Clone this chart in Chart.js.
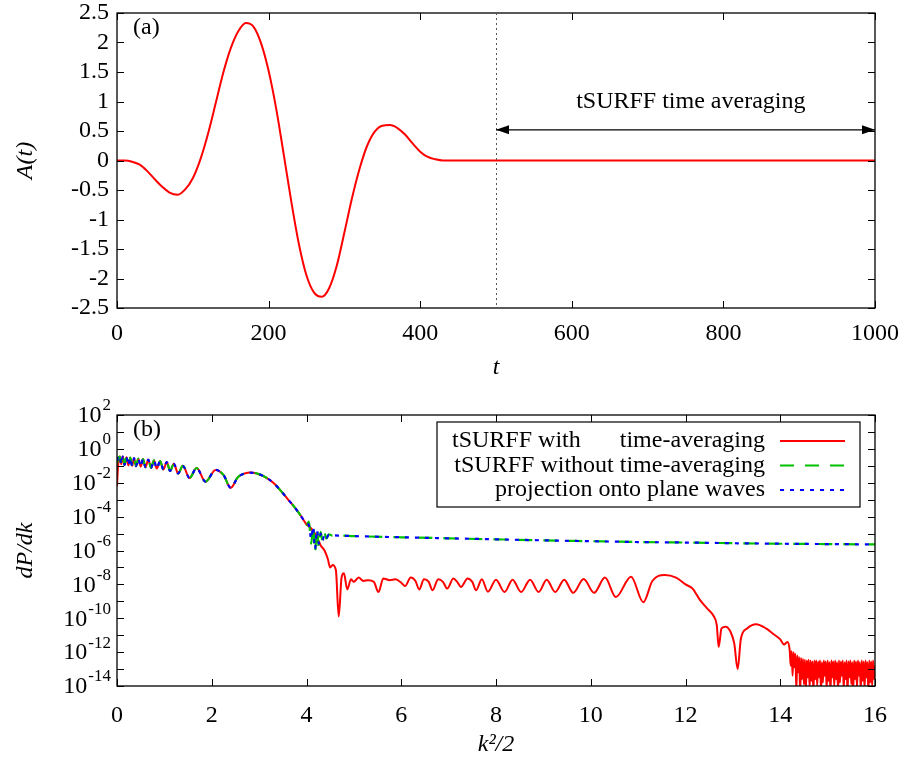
<!DOCTYPE html>
<html lang="en">
<head>
<meta charset="UTF-8" />
<title>A(t) and dP/dk</title>
<script src="https://cdn.jsdelivr.net/npm/chart.js@4.4.0/dist/chart.umd.min.js"></script>
<style>
    body { margin: 0; background: #fff; }
    canvas { position: absolute; left: 0; display: block; }
    #pulse { top: 0; }
    #spectrum { top: 390px; }
</style>
</head>
<body>
<canvas id="pulse" width="906" height="390"></canvas>
<canvas id="spectrum" width="906" height="374"></canvas>
<script>
// ---- panel (a): vector potential A(t)
const tVals = [0, 10, 20, 30, 40, 50, 60, 70, 80, 90, 100, 110, 120, 130, 140, 150, 160, 170, 180, 190,
    200, 210, 220, 230, 240, 250, 260, 270, 280, 290, 300, 310, 320, 330, 340, 350, 360, 370, 380, 390,
    400, 410, 420, 430, 440, 500, 600, 700, 800, 900, 1000];
const aVals = [0, 0, -0.02, -0.07, -0.18, -0.32, -0.45, -0.55, -0.58, -0.49, -0.30, 0.02, 0.45, 0.96, 1.48, 1.90, 2.19, 2.33, 2.27, 1.99,
    1.52, 0.88, 0.10, -0.70, -1.42, -1.95, -2.24, -2.31, -2.16, -1.78, -1.22, -0.64, -0.14, 0.25, 0.49, 0.59, 0.60, 0.55, 0.44, 0.29,
    0.15, 0.06, 0.02, 0, 0, 0, 0, 0, 0, 0, 0];
const aTicksX = [0, 200, 400, 600, 800, 1000];
const avgStart = 500, avgEnd = 1000;   // tSURFF time averaging window

// ---- panel (b): spectra, stored as log10(dP/dk)
const sharedE = [0.06, 0.09, 0.12, 0.16, 0.20, 0.24, 0.28, 0.32, 0.36, 0.40, 0.45, 0.50, 0.55, 0.60, 0.66,
    0.72, 0.78, 0.84, 0.91, 0.98, 1.05, 1.12, 1.20, 1.29, 1.39, 1.53, 1.68, 1.87, 2.08, 2.25,
    2.40, 2.55, 2.65, 2.80, 2.95, 3.10, 3.30, 3.45, 3.60, 3.75, 3.88];
const sharedLogP = [-0.45, -0.9, -0.45, -0.95, -0.5, -0.98, -0.52, -1.0, -0.55, -1.02, -0.58, -1.05, -0.6, -1.08, -0.64,
    -1.12, -0.68, -1.16, -0.72, -1.22, -0.78, -1.3, -0.88, -1.45, -1.0, -1.72, -1.13, -1.94, -1.24, -1.55,
    -2.3, -1.68, -1.5, -1.40, -1.45, -1.62, -2.0, -2.45, -2.95, -3.45, -3.95];

const redHeadE = [0, 0.02, 0.04];
const redHeadLogP = [-2.2, -1.1, -0.6];
const redTailE = [4.0, 4.1, 4.2, 4.3, 4.38, 4.45, 4.5, 4.55, 4.62, 4.68, 4.74, 4.79, 4.86, 4.94, 5.0,
    5.1, 5.2, 5.3, 5.42, 5.52, 5.62, 5.75, 5.88, 6.0, 6.08, 6.2, 6.3, 6.38, 6.48, 6.58,
    6.66, 6.78, 6.88, 6.97, 7.1, 7.18, 7.26, 7.4, 7.5, 7.58, 7.7, 7.83, 8.0, 8.18, 8.35,
    8.53, 8.72, 8.9, 9.07, 9.25, 9.44, 9.63, 9.85, 10.07, 10.3, 10.53, 10.85, 11.11, 11.3, 11.56,
    11.8, 12.0, 12.15, 12.3, 12.45, 12.6, 12.66, 12.7, 12.76, 12.85, 12.95, 13.03, 13.1, 13.17, 13.3,
    13.49, 13.7, 13.84, 14.0, 14.08, 14.15];
const redTailLogP = [-4.45, -4.7, -5.1, -5.7, -6.0, -6.5, -7.0, -6.85, -7.15, -9.9, -7.6, -7.35, -8.3, -7.7, -7.85,
    -7.6, -7.8, -7.75, -7.85, -8.45, -7.65, -7.75, -7.7, -7.9, -8.1, -7.6, -7.8, -8.3, -7.7, -7.85,
    -8.35, -7.7, -7.85, -8.25, -7.65, -7.85, -8.15, -7.65, -7.85, -8.35, -7.7, -8.43, -7.72, -8.45, -7.72,
    -8.45, -7.72, -8.45, -7.72, -8.45, -7.72, -8.5, -7.68, -8.5, -7.6, -8.75, -7.55, -9.05, -7.8, -7.45,
    -7.6, -8.0, -8.25, -8.9, -9.4, -9.9, -10.4, -11.7, -10.6, -10.5, -10.8, -11.5, -13.0, -11.2, -10.6,
    -10.35, -10.6, -10.9, -11.25, -11.55, -11.4];
// numerical noise floor at high energy
const redNoiseE = [14.20, 14.22, 14.24, 14.26, 14.28, 14.30, 14.32, 14.34, 14.36, 14.38, 14.40, 14.42, 14.44, 14.46, 14.48,
    14.50, 14.52, 14.54, 14.56, 14.58, 14.60, 14.62, 14.64, 14.66, 14.68, 14.70, 14.72, 14.74, 14.76, 14.78,
    14.80, 14.82, 14.84, 14.86, 14.88, 14.90, 14.92, 14.94, 14.96, 14.98, 15.00, 15.02, 15.04, 15.06, 15.08,
    15.10, 15.12, 15.14, 15.16, 15.18, 15.20, 15.22, 15.24, 15.26, 15.28, 15.30, 15.32, 15.34, 15.36, 15.38,
    15.40, 15.42, 15.44, 15.46, 15.48, 15.50, 15.52, 15.54, 15.56, 15.58, 15.60, 15.62, 15.64, 15.66, 15.68,
    15.70, 15.72, 15.74, 15.76, 15.78, 15.80, 15.82, 15.84, 15.86, 15.88, 15.90, 15.92, 15.94, 15.96, 15.98, 16.00];
const redNoiseLogP = [-11.9, -12.8, -11.95, -13.4, -12.0, -12.9, -12.1, -14.3, -12.2, -13.2, -12.3, -14.4, -12.35, -13.6, -12.4,
    -13.9, -12.45, -14.3, -12.5, -13.5, -12.45, -14.1, -12.5, -13.7, -12.55, -14.4, -12.5, -13.6, -12.5, -14.0,
    -12.55, -13.5, -12.5, -14.3, -12.6, -13.8, -12.5, -13.4, -12.55, -14.2, -12.5, -13.7, -12.6, -14.4, -12.5,
    -13.5, -12.55, -14.0, -12.5, -13.6, -12.6, -14.3, -12.5, -13.8, -12.55, -13.4, -12.5, -14.2, -12.6, -13.6,
    -12.5, -14.4, -12.55, -13.5, -12.5, -13.9, -12.6, -14.3, -12.5, -13.6, -12.55, -14.1, -12.5, -13.4, -12.6,
    -14.3, -12.5, -13.7, -12.55, -14.2, -12.5, -13.5, -12.6, -14.4, -12.5, -13.8, -12.55, -14.0, -12.5, -13.6, -12.8];

const greenHeadE = [0, 0.03];
const greenHeadLogP = [-0.85, -0.55];
const greenTailE = [3.95, 4.0, 4.05, 4.1, 4.14, 4.18, 4.22, 4.26, 4.3, 4.34, 4.38, 4.42, 4.47, 4.55, 4.7,
    5, 6, 7, 8, 9, 10, 11, 12, 13, 14, 15, 16];
const greenTailLogP = [-4.2, -4.5, -4.3, -5.6, -4.5, -6.1, -4.7, -5.8, -4.9, -5.5, -5.0, -5.3, -5.05, -5.12, -5.12,
    -5.15, -5.22, -5.28, -5.34, -5.4, -5.45, -5.5, -5.53, -5.57, -5.6, -5.62, -5.64];

const blueHeadE = [0, 0.03];
const blueHeadLogP = [-0.7, -0.38];
const blueTailE = [3.95, 4.0, 4.05, 4.1, 4.14, 4.18, 4.22, 4.26, 4.3, 4.34, 4.38, 4.42, 4.47, 4.55, 4.7,
    5, 6, 7, 8, 9, 10, 11, 12, 13, 14, 15, 16];
const blueTailLogP = [-4.25, -4.4, -4.5, -5.3, -4.6, -5.9, -4.8, -5.6, -5.0, -5.4, -5.05, -5.25, -5.08, -5.1, -5.12,
    -5.15, -5.22, -5.28, -5.34, -5.4, -5.45, -5.5, -5.53, -5.57, -5.6, -5.62, -5.64];

const bTicksX = [0, 2, 4, 6, 8, 10, 12, 14, 16];
const bDecades = [-14, -13, -12, -11, -10, -9, -8, -7, -6, -5, -4, -3, -2, -1, 0, 1, 2];

const legendRows = ["tSURFF with time-averaging", "tSURFF without time-averaging", "projection onto plane waves"];

const serif = "Liberation Serif";
Chart.defaults.font.family = serif;
Chart.defaults.color = "#000";

function toPoints(xs, logs) {
    return xs.map((x, i) => ({ x: x, y: Math.pow(10, logs[i]) }));
}

// gnuplot style frame with inward ticks on all four sides
const frameTicks = {
    id: "frameTicks",
    afterDraw(chart) {
        const { ctx, chartArea: a, scales } = chart;
        const len = 7;
        ctx.save();
        ctx.strokeStyle = "#000";
        ctx.lineWidth = 1;
        ctx.beginPath();
        scales.x.ticks.forEach(t => {
            const px = Math.round(scales.x.getPixelForValue(t.value)) + 0.5;
            ctx.moveTo(px, a.bottom); ctx.lineTo(px, a.bottom - len);
            ctx.moveTo(px, a.top); ctx.lineTo(px, a.top + len);
        });
        scales.y.ticks.forEach(t => {
            const py = Math.round(scales.y.getPixelForValue(t.value)) + 0.5;
            ctx.moveTo(a.left, py); ctx.lineTo(a.left + len, py);
            ctx.moveTo(a.right, py); ctx.lineTo(a.right - len, py);
        });
        ctx.stroke();
        ctx.lineWidth = 1.3;
        ctx.strokeRect(a.left, a.top, a.right - a.left, a.bottom - a.top);
        ctx.font = "24px " + serif;
        ctx.fillStyle = "#000";
        ctx.textBaseline = "middle";
        ctx.fillText(chart.options.plugins.frameTicks.panel, a.left + 16, a.top + 15);
        ctx.restore();
    }
};

// 10^n labels with a raised exponent, every second decade
const powerLabels = {
    id: "powerLabels",
    afterDraw(chart) {
        const { ctx, chartArea: a, scales: { y } } = chart;
        ctx.save();
        ctx.fillStyle = "#000";
        ctx.textAlign = "right";
        ctx.textBaseline = "middle";
        bDecades.filter(e => e % 2 === 0).forEach(e => {
            const py = y.getPixelForValue(Math.pow(10, e));
            const expText = String(e);
            ctx.font = "17px " + serif;
            const w = ctx.measureText(expText).width;
            const xr = a.left - 6;
            ctx.fillText(expText, xr, py - 9);
            ctx.font = "24px " + serif;
            ctx.fillText("10", xr - w - 1, py + 1);
        });
        ctx.restore();
    }
};

const averagingNote = {
    id: "averagingNote",
    afterDraw(chart) {
        const { ctx, chartArea: a, scales: { x, y } } = chart;
        const x0 = x.getPixelForValue(avgStart), x1 = x.getPixelForValue(avgEnd);
        const ya = y.getPixelForValue(0.52);
        ctx.save();
        ctx.strokeStyle = "#555";
        ctx.lineWidth = 1;
        ctx.setLineDash([2, 3]);
        ctx.beginPath();
        ctx.moveTo(Math.round(x0) + 0.5, a.top);
        ctx.lineTo(Math.round(x0) + 0.5, a.bottom);
        ctx.stroke();
        ctx.setLineDash([]);
        ctx.strokeStyle = "#000";
        ctx.fillStyle = "#000";
        ctx.lineWidth = 1.3;
        ctx.beginPath();
        ctx.moveTo(x0, ya); ctx.lineTo(x1, ya);
        ctx.stroke();
        ctx.beginPath();
        ctx.moveTo(x0, ya); ctx.lineTo(x0 + 13, ya - 4.5); ctx.lineTo(x0 + 13, ya + 4.5); ctx.closePath();
        ctx.moveTo(x1, ya); ctx.lineTo(x1 - 13, ya - 4.5); ctx.lineTo(x1 - 13, ya + 4.5); ctx.closePath();
        ctx.fill();
        ctx.font = "24px " + serif;
        ctx.textAlign = "center";
        ctx.textBaseline = "middle";
        ctx.fillText("tSURFF time averaging", x.getPixelForValue(757), y.getPixelForValue(1.0));
        ctx.restore();
    }
};

const boxLegend = {
    id: "boxLegend",
    afterDraw(chart) {
        const { ctx, chartArea: a } = chart;
        const right = a.right - 15, top = a.top + 7;
        const left = right - 423, height = 85;
        ctx.save();
        ctx.fillStyle = "#fff";
        ctx.fillRect(left, top, right - left, height);
        ctx.strokeStyle = "#000";
        ctx.lineWidth = 1.2;
        ctx.strokeRect(left, top, right - left, height);
        ctx.font = "24px " + serif;
        ctx.fillStyle = "#000";
        ctx.textBaseline = "middle";
        const textRight = right - 95;
        chart.data.datasets.forEach((ds, i) => {
            const yy = top + 19 + i * 24.5;
            if (i === 0) {
                const words = legendRows[0].split(" ");
                ctx.textAlign = "left";
                ctx.fillText(words[0] + " " + words[1], left + 15, yy);
                ctx.textAlign = "right";
                ctx.fillText(words[2], textRight, yy);
            } else {
                ctx.textAlign = "right";
                ctx.fillText(legendRows[i], textRight, yy);
            }
            ctx.strokeStyle = ds.borderColor;
            ctx.lineWidth = ds.borderWidth;
            ctx.setLineDash(ds.borderDash || []);
            ctx.beginPath();
            ctx.moveTo(right - 80, yy);
            ctx.lineTo(right - 15, yy);
            ctx.stroke();
        });
        ctx.restore();
    }
};

const tickFont = { family: serif, size: 24 };
const titleFont = { family: serif, size: 24, style: "italic" };

// keep the plot frame where the layout padding puts it
function fixX(height) {
    return s => { s.height = height; s.paddingLeft = 0; s.paddingRight = 0; };
}
function fixY(s) {
    s.width = 117; s.paddingTop = 0; s.paddingBottom = 0;
}

new Chart(document.getElementById("pulse"), {
    type: "line",
    data: {
        datasets: [{
            data: tVals.map((t, i) => ({ x: t, y: aVals[i] })),
            borderColor: "#ff0000",
            borderWidth: 2,
            pointRadius: 0,
            cubicInterpolationMode: "monotone"
        }]
    },
    options: {
        responsive: false,
        animation: false,
        layout: { padding: { left: 0, right: 31, top: 13, bottom: 0 } },
        plugins: { legend: { display: false }, tooltip: { enabled: false }, frameTicks: { panel: "(a)" } },
        scales: {
            x: {
                type: "linear", min: 0, max: 1000,
                afterBuildTicks: s => { s.ticks = aTicksX.map(v => ({ value: v })); },
                ticks: { font: tickFont, padding: 11, autoSkip: false, maxRotation: 0, callback: v => String(v) },
                grid: { display: false, drawTicks: false },
                border: { display: false },
                title: { display: true, text: "t", font: titleFont, padding: { bottom: 8 } },
                afterFit: fixX(82)
            },
            y: {
                min: -2.5, max: 2.5,
                ticks: { stepSize: 0.5, font: tickFont, padding: 8, autoSkip: false, callback: v => String(v) },
                grid: { display: false, drawTicks: false },
                border: { display: false },
                title: { display: true, text: "A(t)", font: titleFont, padding: { top: 11 } },
                afterFit: fixY
            }
        }
    },
    plugins: [frameTicks, averagingNote]
});

new Chart(document.getElementById("spectrum"), {
    type: "line",
    data: {
        datasets: [
            {
                label: legendRows[0],
                data: toPoints([...redHeadE, ...sharedE, ...redTailE, ...redNoiseE],
                    [...redHeadLogP, ...sharedLogP, ...redTailLogP, ...redNoiseLogP]),
                borderColor: "#ff0000", borderWidth: 2, pointRadius: 0,
                cubicInterpolationMode: "monotone", order: 3
            },
            {
                label: legendRows[1],
                data: toPoints([...greenHeadE, ...sharedE, ...greenTailE], [...greenHeadLogP, ...sharedLogP, ...greenTailLogP]),
                borderColor: "#00c000", borderWidth: 2.2, borderDash: [14, 11], pointRadius: 0,
                cubicInterpolationMode: "monotone", order: 2
            },
            {
                label: legendRows[2],
                data: toPoints([...blueHeadE, ...sharedE, ...blueTailE], [...blueHeadLogP, ...sharedLogP, ...blueTailLogP]),
                borderColor: "#0000ff", borderWidth: 2.2, borderDash: [4, 6], pointRadius: 0,
                cubicInterpolationMode: "monotone", order: 1
            }
        ]
    },
    options: {
        responsive: false,
        animation: false,
        layout: { padding: { left: 0, right: 31, top: 25, bottom: 0 } },
        plugins: { legend: { display: false }, tooltip: { enabled: false }, frameTicks: { panel: "(b)" } },
        scales: {
            x: {
                type: "linear", min: 0, max: 16,
                afterBuildTicks: s => { s.ticks = bTicksX.map(v => ({ value: v })); },
                ticks: { font: tickFont, padding: 15, autoSkip: false, maxRotation: 0, callback: v => String(v) },
                grid: { display: false, drawTicks: false },
                border: { display: false },
                title: { display: true, text: "k\u00B2/2", font: titleFont, padding: { bottom: 5 } },
                afterFit: fixX(78)
            },
            y: {
                type: "logarithmic", min: 1e-14, max: 1e2,
                afterBuildTicks: s => { s.ticks = bDecades.map(e => ({ value: Math.pow(10, e) })); },
                ticks: { autoSkip: false, callback: () => "" },
                grid: { display: false, drawTicks: false },
                border: { display: false },
                title: { display: true, text: "dP/dk", font: titleFont, padding: { top: 11 } },
                afterFit: fixY
            }
        }
    },
    plugins: [frameTicks, powerLabels, boxLegend]
});
</script>
</body>
</html>
